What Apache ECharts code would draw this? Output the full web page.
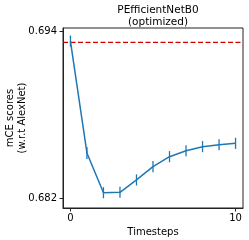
<!DOCTYPE html>
<html>
<head>
<meta charset="utf-8">
<script src="https://cdn.jsdelivr.net/npm/echarts@6/dist/echarts.min.js"></script>
<style>html,body{margin:0;padding:0;background:#fff}#c{width:249px;height:240px}</style>
</head>
<body>
<div id="c"></div>
<script>
var timesteps = [0, 1, 2, 3, 4, 5, 6, 7, 8, 9, 10];
var mceScores = [0.69328, 0.68524, 0.68238, 0.68241, 0.68330, 0.68425, 0.68497, 0.68540, 0.68569, 0.68583, 0.68593];
var mceErrors = [0.0004, 0.00043, 0.0004, 0.0004, 0.0004, 0.0004, 0.0004, 0.0004, 0.0004, 0.0004, 0.0004];
var referenceLine = 0.69319;
var yTicks = [0.682, 0.694];
var xTicks = [0, 10];
var xRange = [-0.45, 10.45];
var yRange = [0.68128, 0.69422];
var titleText = 'PEfficientNetB0\n(optimized)';
var xName = 'Timesteps';
var yName = 'mCE scores\n(w.r.t AlexNet)';

var FONT = 'DejaVu Sans';
var BLUE = '#1f77b4';

var lineData = timesteps.map(function (t, i) { return [t, mceScores[i]]; });
var errData = timesteps.map(function (t, i) { return [t, mceScores[i] - mceErrors[i], mceScores[i] + mceErrors[i]]; });
var refData = [[xRange[0], referenceLine], [xRange[1], referenceLine]];

var chart = echarts.init(document.getElementById('c'), null, {renderer: 'canvas'});
chart.setOption({
  animation: false,
  title: {
    text: titleText,
    left: 153, top: -1, textAlign: 'center',
    textStyle: {fontFamily: FONT, fontSize: 10.5, fontWeight: 'normal', color: '#000', lineHeight: 12}
  },
  grid: {left: 63, top: 28, right: 6, bottom: 32, outerBoundsMode: 'none', containLabel: false,
    show: true, borderColor: '#222', borderWidth: 1, backgroundColor: 'transparent'},
  xAxis: {
    type: 'value', min: xRange[0], max: xRange[1],
    name: xName, nameLocation: 'middle', nameGap: 19, nameMoveOverlap: false,
    nameTextStyle: {fontFamily: FONT, fontSize: 10, color: '#000'},
    axisLine: {show: true, onZero: false, lineStyle: {color: '#222', width: 1}},
    axisTick: {show: true, length: 3.5, customValues: xTicks, lineStyle: {color: '#222'}},
    axisLabel: {customValues: xTicks, margin: 5, fontFamily: FONT, fontSize: 10, color: '#000'},
    splitLine: {show: false}
  },
  yAxis: {
    type: 'value', min: yRange[0], max: yRange[1],
    name: yName, nameLocation: 'middle', nameGap: 35, nameRotate: 90, nameMoveOverlap: false,
    nameTextStyle: {fontFamily: FONT, fontSize: 10, color: '#000', lineHeight: 12},
    axisLine: {show: true, onZero: false, lineStyle: {color: '#222', width: 1}},
    axisTick: {show: true, length: 3.5, customValues: yTicks, lineStyle: {color: '#222'}},
    axisLabel: {customValues: yTicks, margin: 6, fontFamily: FONT, fontSize: 10, color: '#000',
      formatter: function (v) { return v.toFixed(3); }},
    splitLine: {show: false}
  },
  series: [
    {
      type: 'line', data: refData, symbol: 'none', silent: true,
      lineStyle: {color: '#d40000', width: 1.3, type: [5, 2.5]}
    },
    {
      type: 'line', data: lineData, symbol: 'none',
      lineStyle: {color: BLUE, width: 1.5}
    },
    {
      type: 'custom', data: errData,
      renderItem: function (params, api) {
        var lo = api.coord([api.value(0), api.value(1)]);
        var hi = api.coord([api.value(0), api.value(2)]);
        return {type: 'line', shape: {x1: lo[0], y1: lo[1], x2: hi[0], y2: hi[1]},
          style: {stroke: BLUE, lineWidth: 1.3}};
      },
      encode: {x: 0, y: [1, 2]}
    }
  ]
});
</script>
</body>
</html>
